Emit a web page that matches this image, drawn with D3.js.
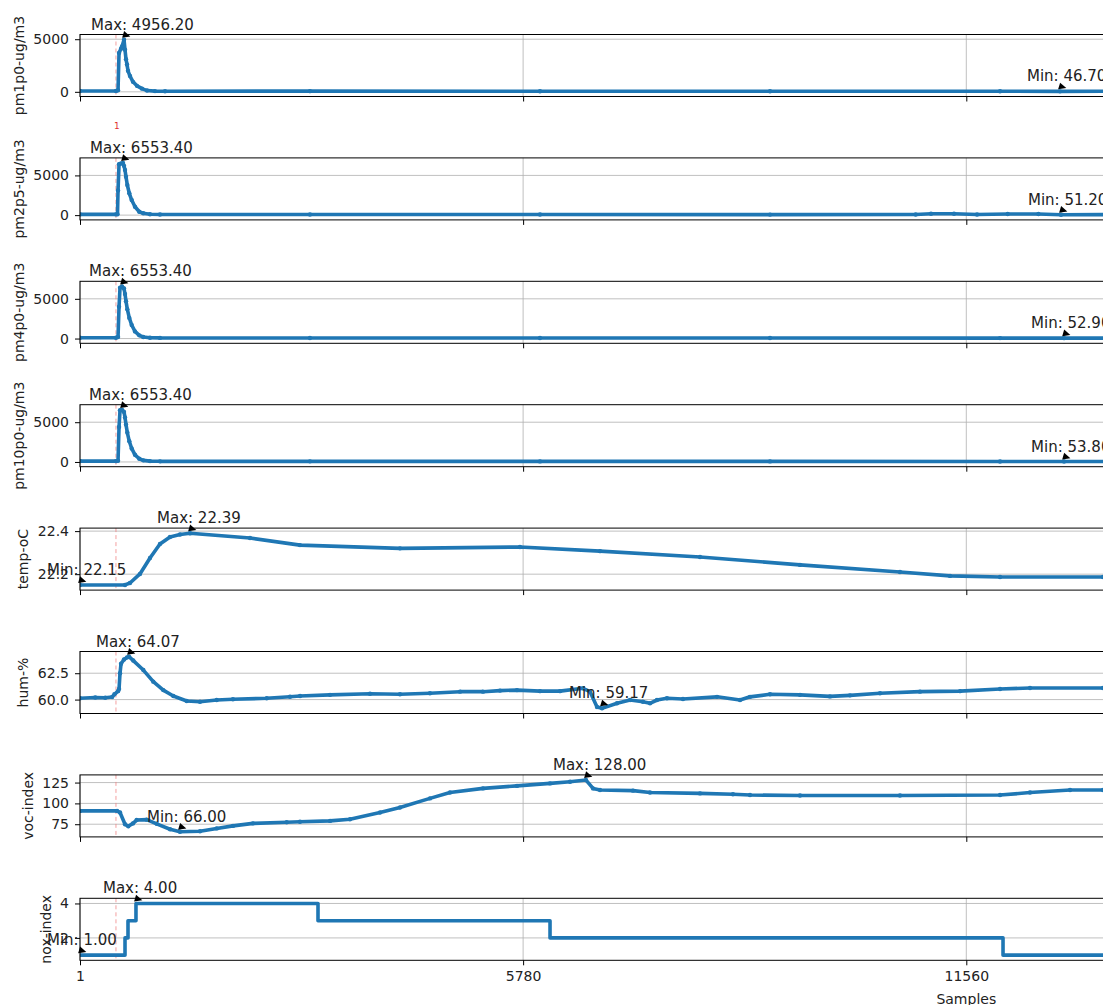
<!DOCTYPE html>
<html><head><meta charset="utf-8">
<script src="https://cdn.jsdelivr.net/npm/d3@7"></script>
<style>
body{margin:0;overflow:hidden;background:#fff}
text{font-family:"DejaVu Sans",sans-serif}
</style>
</head><body>
<svg id="chart" width="1103" height="1005"></svg>
<script>
// ---------------- data ----------------
const N_SAMPLES = 23119;
const xTicks = [1, 5780, 11560, 17339, 23119];
const xLabel = "Samples";
const eventSample = 470;
const eventLabel = "1";

const seriesNames = ["pm1p0-ug/m3","pm2p5-ug/m3","pm4p0-ug/m3","pm10p0-ug/m3","temp-oC","hum-%","voc-index","nox-index"];

const pm1p0 = [[1,80],[470,80],[497,150],[510,3700],[536,4100],[549,4300],[575,4956.2],[588,4000],[601,3100],[614,2600],[627,2000],[653,1500],[692,950],[744,570],[810,300],[875,120],[979,70],[1110,60],[3000,65],[6000,60],[9000,58],[12000,55],[12782,46.7],[13500,55]];
const pm2p5 = [[1,100],[470,100],[490,110],[497,3100],[510,6400],[536,6500],[562,6553.4],[575,6200],[588,5680],[601,4830],[618,3790],[644,2750],[675,1900],[718,1060],[774,430],[826,230],[914,120],[1044,80],[3000,80],[6000,75],[9000,70],[10900,90],[11100,180],[11400,170],[11700,90],[12100,150],[12500,140],[12795,51.2],[13500,70]];
const pm4p0 = [[1,100],[470,105],[497,200],[510,4000],[523,6400],[549,6553.4],[575,6300],[588,5600],[601,4700],[618,3700],[644,2600],[675,1700],[718,900],[774,400],[826,200],[914,110],[1044,80],[3000,75],[6000,70],[9000,68],[12000,60],[12835,52.9],[13500,60]];
const pm10p0 = [[1,100],[470,105],[497,150],[510,4400],[523,6500],[549,6553.4],[575,6300],[588,5600],[601,4700],[618,3700],[644,2600],[675,1700],[718,900],[774,400],[826,200],[914,110],[1044,80],[3000,75],[6000,72],[9000,68],[12000,62],[12835,53.8],[13500,62]];
const temp = [[1,22.15],[588,22.15],[653,22.159],[783,22.201],[914,22.275],[1044,22.34],[1175,22.373],[1305,22.384],[1436,22.39],[2218,22.368],[2870,22.335],[4174,22.32],[5739,22.326],[6783,22.307],[8087,22.28],[9391,22.243],[10695,22.21],[11348,22.192],[12000,22.187],[13343,22.187],[13600,22.187]];
const hum = [[1,60.12],[200,60.2],[330,60.18],[420,60.25],[450,60.5],[497,60.8],[510,61.0],[523,62.5],[536,63.4],[575,63.8],[614,64.0],[640,64.07],[696,63.7],[827,62.8],[957,61.7],[1087,60.9],[1218,60.34],[1393,59.87],[1566,59.8],[1784,59.96],[1996,60.03],[2436,60.12],[2740,60.27],[2871,60.34],[3262,60.45],[3783,60.55],[4174,60.5],[4565,60.6],[4957,60.75],[5257,60.75],[5479,60.85],[5700,60.9],[6000,60.8],[6261,60.8],[6561,61.07],[6653,60.75],[6744,59.3],[6809,59.17],[7005,59.65],[7175,59.96],[7343,59.8],[7435,59.65],[7526,59.96],[7656,60.12],[7865,60.05],[8309,60.26],[8609,59.96],[8739,60.26],[9000,60.5],[9391,60.45],[9782,60.3],[10043,60.4],[10435,60.6],[10956,60.75],[11478,60.8],[12000,61.0],[12391,61.1],[13343,61.1],[13600,61.1]];
const voc = [[1,91],[484,91],[523,89],[588,75],[631,72.5],[692,76],[740,80],[871,80.5],[1001,75.5],[1175,69],[1305,66],[1566,66.5],[1784,70],[1996,73],[2257,76],[2697,77.3],[2870,78],[3262,79],[3522,81],[3914,89],[4174,95],[4565,106],[4826,113],[5257,118],[5700,121],[6131,124],[6392,126],[6600,128],[6692,118],[6783,116],[7213,115.3],[7435,113],[8087,112],[8517,111],[8739,110],[9391,109.5],[10695,109.5],[12000,110],[12391,113],[12913,116],[13343,116],[13600,116]];
const nox = [[1,1],[588,2],[627,3],[731,4],[3105,3],[6131,2],[12039,1],[13600,1]];

const seriesData = [pm1p0, pm2p5, pm4p0, pm10p0, temp, hum, voc, nox];
const yTickValues = [[0,5000],[0,5000],[0,5000],[0,5000],[22.2,22.4],[60.0,62.5],[75,100,125],[2,4]];
const yTickFormats = ["d","d","d","d",".1f",".1f","d","d"];
const stepSeries = [false,false,false,false,false,false,false,true];

// ---------------- layout ----------------
const svg = d3.select("#chart");
const left = 80, pxPerSample = 0.076676;
const right = left + (N_SAMPLES - 1) * pxPerSample;
const top0 = 34.5, step = 123.4, panelH = 62;
const blue = "#1f77b4", gridC = "#b0b0b0", textC = "#222";

const x = d3.scaleLinear().domain([1, N_SAMPLES]).range([left, right]);

seriesData.forEach((data, i) => {
  const top = top0 + i * step, bottom = top + panelH;
  const vals = data.map(d => d[1]);
  const vmin = d3.min(vals), vmax = d3.max(vals), pad = (vmax - vmin) * 0.1;
  const y = d3.scaleLinear().domain([vmin - pad, vmax + pad]).range([bottom, top]);
  const g = svg.append("g");

  const clipId = "clip" + i;
  svg.append("clipPath").attr("id", clipId).append("rect")
    .attr("x", left).attr("y", top).attr("width", right - left).attr("height", panelH);

  // grid
  g.selectAll(".gy").data(yTickValues[i]).join("line")
    .attr("x1", left).attr("x2", right).attr("y1", d => y(d)).attr("y2", d => y(d))
    .attr("stroke", gridC).attr("stroke-width", 0.8);
  g.selectAll(".gx").data(xTicks).join("line")
    .attr("x1", d => x(d)).attr("x2", d => x(d)).attr("y1", top).attr("y2", bottom)
    .attr("stroke", gridC).attr("stroke-width", 0.8);

  // event line
  g.append("line").attr("x1", x(eventSample)).attr("x2", x(eventSample))
    .attr("y1", top).attr("y2", bottom)
    .attr("stroke", "#f08080").attr("stroke-opacity", 0.75)
    .attr("stroke-width", 1).attr("stroke-dasharray", "4,3");

  // series
  const line = d3.line().x(d => x(d[0])).y(d => y(d[1]))
    .curve(stepSeries[i] ? d3.curveStepAfter : d3.curveLinear);
  const dg = g.append("g").attr("clip-path", `url(#${clipId})`);
  dg.append("path").datum(data).attr("d", line)
    .attr("fill", "none").attr("stroke", blue).attr("stroke-width", 3.6)
    .attr("stroke-linejoin", "round");
  if (!stepSeries[i]) {
    dg.selectAll("circle").data(data).join("circle")
      .attr("cx", d => x(d[0])).attr("cy", d => y(d[1])).attr("r", 2.2).attr("fill", blue);
  }

  // spines
  g.append("rect").attr("x", left).attr("y", top).attr("width", right - left).attr("height", panelH)
    .attr("fill", "none").attr("stroke", "#000").attr("stroke-width", 1);

  // y axis
  const ya = g.append("g").attr("transform", `translate(${left},0)`)
    .call(d3.axisLeft(y).tickValues(yTickValues[i]).tickSize(5).tickPadding(6)
      .tickFormat(d3.format(yTickFormats[i])));
  ya.select(".domain").remove();
  ya.selectAll("text").attr("font-size", 14).attr("fill", textC).attr("font-family", "DejaVu Sans");
  let maxW = 0;
  ya.selectAll("text").each(function(){ maxW = Math.max(maxW, this.getComputedTextLength()); });

  // x axis
  const isLast = i === seriesData.length - 1;
  const xa = g.append("g").attr("transform", `translate(0,${bottom})`)
    .call(d3.axisBottom(x).tickValues(xTicks).tickSize(5).tickPadding(6)
      .tickFormat(isLast ? d3.format("d") : () => ""));
  xa.select(".domain").remove();
  xa.selectAll("text").attr("font-size", 14).attr("fill", textC).attr("font-family", "DejaVu Sans");

  // y label
  const lx = left - 11 - maxW - 9.5;
  g.append("text").attr("transform", `translate(${lx},${top + panelH / 2}) rotate(-90)`)
    .attr("text-anchor", "middle").attr("font-size", 14).attr("fill", textC).text(seriesNames[i]);

  // annotations (max / min)
  const maxPt = data.find(d => d[1] === vmax), minPt = data.find(d => d[1] === vmin);
  [["Max", maxPt], ["Min", minPt]].forEach(([lab, p]) => {
    const px = x(p[0]), py = y(p[1]);
    g.append("text").attr("x", px - 33).attr("y", py - 10)
      .attr("font-size", 15).attr("fill", textC).text(`${lab}: ${p[1].toFixed(2)}`);
    const dx = 0.959, dy = 0.282, qx = -dy, qy = dx;
    const cx = px + 2, cy = py - 4.5;
    const pts = [[cx + 4.5 * dx, cy + 4.5 * dy],
                 [cx - 3 * dx + 3.5 * qx, cy - 3 * dy + 3.5 * qy],
                 [cx - 3 * dx - 3.5 * qx, cy - 3 * dy - 3.5 * qy]];
    g.append("path").attr("d", "M" + pts.map(q => q.join(",")).join("L") + "Z").attr("fill", "#000");
  });

  if (i === 0) {
    svg.append("text").attr("x", x(eventSample) + 1).attr("y", 128.5)
      .attr("text-anchor", "middle").attr("font-size", 9).attr("fill", "#e03030").text(eventLabel);
  }
  if (isLast) {
    svg.append("text").attr("x", (left + right) / 2).attr("y", 1003.5)
      .attr("text-anchor", "middle").attr("font-size", 14).attr("fill", textC).text(xLabel);
  }
});
</script>
</body></html>
